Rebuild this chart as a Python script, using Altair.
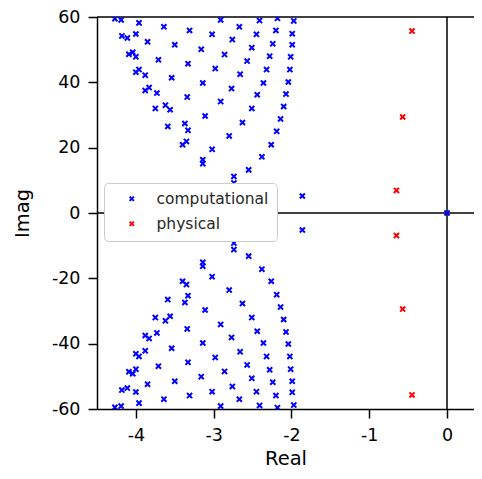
import altair as alt
import pandas as pd

# ---- data ----
comp_re = [-4.27, -4.19, -3.96, -3.64, -3.31, -2.91, -2.67, -2.41, -2.18, -1.97,
           -4.18, -4.11, -4.00, -3.85, -3.50, -3.16, -3.02, -2.76, -2.45, -2.20, -1.99,
           -4.09, -4.04, -4.00, -3.71, -3.33, -2.86, -2.51, -2.24, -1.99,
           -4.00, -3.96, -3.88, -3.54, -2.98, -2.57, -2.28, -2.01,
           -3.88, -3.83, -3.73, -3.14, -2.66, -2.32, -2.02,
           -3.75, -3.62, -3.56, -3.34, -2.91, -2.36, -2.04,
           -3.59, -3.37, -3.33, -3.40, -3.35, -3.11, -3.02, -3.14, -3.14,
           -2.80, -2.63, -2.74, -2.74, -2.55, -2.38, -2.26, -2.19, -2.14, -2.10, -2.07,
           -2.44, -2.51, -1.86, -2.77]
comp_im_upper = [59.5, 59.1, 58.2, 57.0, 55.9, 59.1, 57.0, 58.9, 59.6, 58.8,
                 54.2, 53.6, 54.8, 52.4, 51.5, 50.1, 54.7, 53.1, 54.7, 55.9, 54.9,
                 48.6, 49.2, 47.8, 46.9, 45.7, 48.5, 50.6, 51.8, 51.5,
                 43.1, 43.9, 42.2, 41.4, 44.2, 46.5, 48.0, 47.8,
                 37.5, 38.4, 36.7, 39.8, 42.5, 43.9, 43.9,
                 32.0, 33.0, 31.6, 35.5, 34.1, 39.8, 40.1,
                 26.5, 27.4, 25.3, 20.9, 21.9, 29.7, 19.5, 16.3, 15.1,
                 23.6, 27.7, 11.2, 9.2, 13.2, 17.2, 20.9, 25.0, 28.8, 32.6, 36.4,
                 36.2, 32.0, 5.2, 38.1]
comp_im_lower = [-59.5, -59.1, -58.2, -57.0, -55.9, -59.1, -57.0, -58.9, -59.6, -58.8,
                 -54.2, -53.6, -54.8, -52.4, -51.5, -50.1, -54.7, -53.1, -54.7, -55.9, -54.9,
                 -48.6, -49.2, -47.8, -46.9, -45.7, -48.5, -50.6, -51.8, -51.5,
                 -43.1, -43.9, -42.2, -41.4, -44.2, -46.5, -48.0, -47.8,
                 -37.5, -38.4, -36.7, -39.8, -42.5, -43.9, -43.9,
                 -32.0, -33.0, -31.6, -35.5, -34.1, -39.8, -40.1,
                 -26.5, -27.4, -25.3, -20.9, -21.9, -29.7, -19.5, -16.3, -15.1,
                 -23.6, -27.7, -11.2, -9.2, -13.2, -17.2, -20.9, -25.0, -28.8, -32.6, -36.4,
                 -36.2, -32.0, -5.2, -38.1]
origin_re = [0.0]
origin_im = [0.0]
phys_re = [-0.45, -0.57, -0.65, -0.65, -0.57, -0.45]
phys_im = [55.7, 29.4, 6.9, -6.9, -29.4, -55.7]

x_ticks = [-4, -3, -2, -1, 0]
y_ticks = [-60, -40, -20, 0, 20, 40, 60]
series = ["computational", "physical"]
colors = ["#0000ff", "#ff0000"]

re_all = comp_re + comp_re + origin_re + phys_re
im_all = comp_im_upper + comp_im_lower + origin_im + phys_im
kind_all = (["computational"] * (2 * len(comp_re) + len(origin_re))
            + ["physical"] * len(phys_re))
df = pd.DataFrame({"re": re_all, "im": im_all, "kind": kind_all})

XPATH = "M-1,-1L1,1M-1,1L1,-1"
FONT = "DejaVu Sans"
label_expr = "(datum.value < 0 ? '-' : '') + abs(datum.value)"

xs = alt.Scale(domain=[-4.5, 0.347], nice=False, zero=False)
ys = alt.Scale(domain=[-60, 60], nice=False, zero=False)

points = alt.Chart(df).mark_point(
    shape=XPATH, filled=False, size=26, strokeWidth=2, opacity=1, clip=True
).encode(
    x=alt.X("re:Q", scale=xs, axis=alt.Axis(values=x_ticks, title="Real", labelExpr=label_expr)),
    y=alt.Y("im:Q", scale=ys, axis=alt.Axis(values=y_ticks, title="Imag", labelExpr=label_expr)),
    color=alt.Color("kind:N", scale=alt.Scale(domain=series, range=colors),
                    legend=alt.Legend(title=None, orient="none", legendX=7, legendY=166,
                                      symbolType=XPATH, symbolSize=18, symbolStrokeWidth=2,
                                      symbolOffset=12, labelOffset=17, padding=8,
                                      rowPadding=8, labelFontSize=15.5, labelFont=FONT,
                                      labelColor="#262626", strokeColor="#cccccc",
                                      cornerRadius=4, fillColor="white")),
)

one = pd.DataFrame({"z": [0]})
vline = alt.Chart(one).mark_rule(color="black", strokeWidth=1.5).encode(x=alt.datum(0))
hline = alt.Chart(one).mark_rule(color="black", strokeWidth=1.5).encode(y=alt.datum(0))
topline = alt.Chart(one).mark_rule(color="black", strokeWidth=1.5).encode(y=alt.datum(60))

chart = alt.layer(vline, hline, topline, points).properties(
    width=377, height=392,
    autosize=alt.AutoSizeParams(type="none"),
    padding={"left": 89, "top": 9, "right": 0, "bottom": 62},
).configure_view(
    strokeWidth=0
).configure_axis(
    domain=True, domainColor="black", domainWidth=1.5,
    tickColor="black", tickWidth=1.5, tickSize=9,
    labelFont=FONT, labelFontSize=17.5, labelColor="black", labelPadding=8,
    titleFont=FONT, titleFontSize=19.5, titleFontWeight="normal", titleColor="black",
    gridColor="#c8c8c8", gridDash=[1, 2], gridWidth=0.8,
).configure_axisY(titlePadding=19).configure_axisX(titlePadding=6)

chart.save("out.html", embed_options={"renderer": "svg", "actions": False})
